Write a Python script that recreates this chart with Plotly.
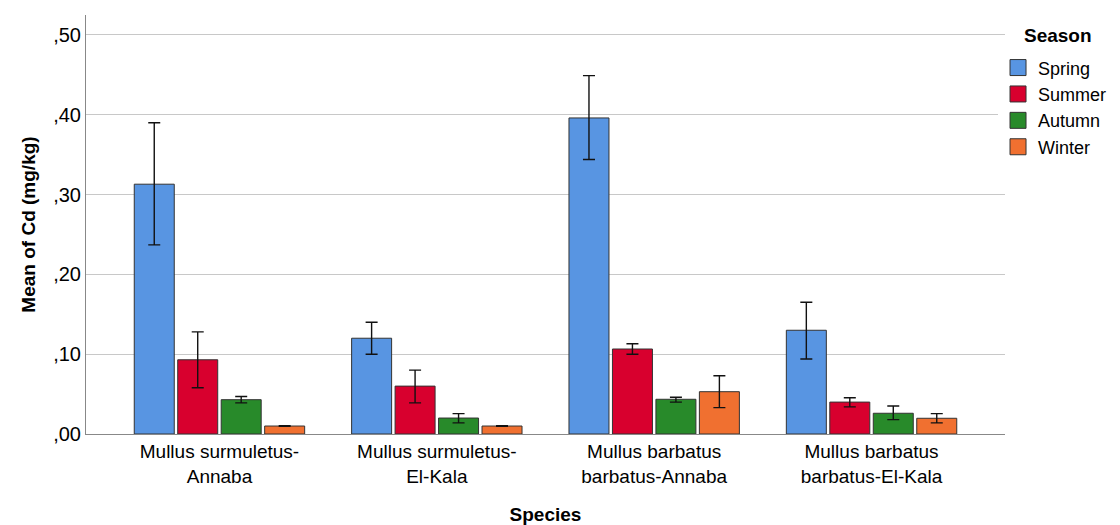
import plotly.graph_objects as go

species = ["Mullus surmuletus-<br>Annaba", "Mullus surmuletus-<br>El-Kala",
           "Mullus barbatus<br>barbatus-Annaba", "Mullus barbatus<br>barbatus-El-Kala"]
seasons = ["Spring", "Summer", "Autumn", "Winter"]
colors = ["#5895E2", "#D8002E", "#288A2A", "#F07030"]

spring = [0.313, 0.120, 0.396, 0.130]
spring_hi = [0.390, 0.140, 0.449, 0.165]
spring_lo = [0.237, 0.100, 0.344, 0.094]

summer = [0.093, 0.060, 0.1065, 0.040]
summer_hi = [0.128, 0.080, 0.113, 0.0455]
summer_lo = [0.058, 0.039, 0.100, 0.034]

autumn = [0.043, 0.020, 0.0435, 0.026]
autumn_hi = [0.047, 0.0255, 0.046, 0.035]
autumn_lo = [0.039, 0.014, 0.040, 0.018]

winter = [0.010, 0.010, 0.053, 0.0197]
winter_hi = [0.0105, 0.0105, 0.073, 0.0255]
winter_lo = [0.0095, 0.0095, 0.033, 0.014]

yticks = [0, 0.1, 0.2, 0.3, 0.4, 0.5]
yticktext = [",00", ",10", ",20", ",30", ",40", ",50"]

series = [
    (spring, spring_hi, spring_lo),
    (summer, summer_hi, summer_lo),
    (autumn, autumn_hi, autumn_lo),
    (winter, winter_hi, winter_lo),
]

fig = go.Figure()
for name, color, (vals, hi, lo) in zip(seasons, colors, series):
    fig.add_trace(go.Bar(
        x=species, y=vals, name=name, showlegend=False,
        marker=dict(color=color, line=dict(color="#333333", width=1)),
        error_y=dict(type="data", symmetric=False,
                     array=[h - v for h, v in zip(hi, vals)],
                     arrayminus=[v - l for v, l in zip(vals, lo)],
                     color="#111111", thickness=1.4, width=6),
    ))
# legend entries with larger square swatches
for name, color in zip(seasons, colors):
    fig.add_trace(go.Scatter(
        x=[None], y=[None], mode="markers", name=name,
        marker=dict(symbol="square", size=17, color=color,
                    line=dict(color="#333333", width=1)),
    ))

fig.update_layout(
    width=1112, height=517,
    margin=dict(l=78, r=115, t=7, b=91, autoexpand=False),
    paper_bgcolor="white", plot_bgcolor="white",
    font=dict(family="Liberation Sans, Arial, sans-serif", size=19, color="#000000"),
    barmode="group", bargap=0.2, bargroupgap=0.08,
    legend=dict(x=0.9924, y=0.918, xanchor="left", yanchor="top",
                font=dict(size=18), tracegroupgap=0, itemwidth=30,
                itemsizing="trace"),
    xaxis=dict(range=[-0.614, 3.614], showline=True, linecolor="#888888", linewidth=1,
               ticks="", tickfont=dict(size=19), automargin=False,
               title=dict(text="<b>Species</b>", font=dict(size=19), standoff=22)),
    yaxis=dict(range=[0, 0.525], tickvals=yticks, ticktext=yticktext,
               showline=True, linecolor="#888888", linewidth=1, automargin=False,
               showgrid=True, gridcolor="#C8C8C8", gridwidth=1, zeroline=False,
               ticks="", tickfont=dict(size=20),
               title=dict(text="<b>Mean of Cd (mg/kg)</b>", font=dict(size=19), standoff=12)),
    annotations=[dict(text="<b>Season</b>", xref="paper", yref="paper",
                      x=1.0185, y=0.952, xanchor="left", yanchor="middle",
                      showarrow=False, font=dict(size=19))],
)

fig.write_html("out.html")
